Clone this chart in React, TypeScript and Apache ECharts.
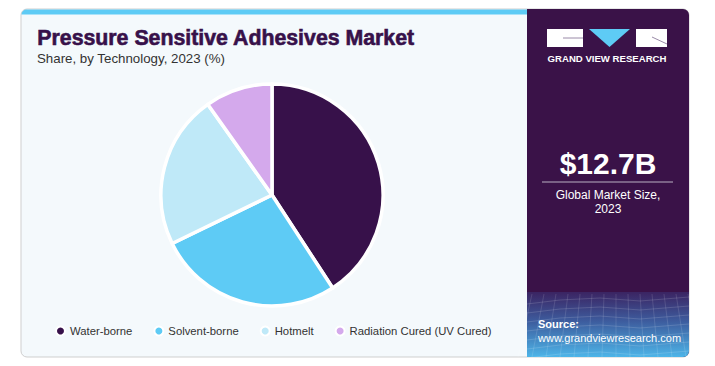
import React, { useEffect, useRef } from "react";
import * as echarts from "echarts";

const categories = ["Water-borne", "Solvent-borne", "Hotmelt", "Radiation Cured (UV Cured)"];
const shares = [40.8, 27.0, 22.4, 9.8];
const colors = ["#37114a", "#5ecbf5", "#bfe9f8", "#d4a9ec"];
const titleText = "Pressure Sensitive Adhesives Market";
const subtitleText = "Share, by Technology, 2023 (%)";
const marketSize = "$12.7B";
const marketLabel = ["Global Market Size,", "2023"];

export default function App() {
  const ref = useRef<HTMLDivElement>(null);
  useEffect(() => {
    if (!ref.current) return;
    const chart = echarts.init(ref.current, undefined, { renderer: "svg" });
    const font = "'Liberation Sans', Arial, sans-serif";
    const gridLines: any[] = [];
    for (let i = 0; i < 7; i++) {
      const y = 300 + i * 9;
      gridLines.push({
        type: "polyline",
        shape: { points: [[527, y + 4], [560, y], [600, y - 2], [640, y + 1], [689, y - 3]] },
        style: { stroke: "rgba(255,255,255,0.14)", lineWidth: 1, fill: null },
      });
    }
    for (let i = 0; i < 14; i++) {
      const x = 532 + i * 12;
      gridLines.push({
        type: "line",
        shape: { x1: x, y1: 294, x2: x + (i - 7) * 2, y2: 357 },
        style: { stroke: "rgba(255,255,255,0.12)", lineWidth: 1 },
      });
    }
    chart.setOption({
      animation: false,
      textStyle: { fontFamily: font },
      graphic: [
        {
          type: "rect",
          shape: { x: 21, y: 9, width: 668, height: 348, r: 6 },
          style: { fill: "#f4f9fc", stroke: "#cfcfcf", lineWidth: 1 },
        },
        {
          type: "rect",
          shape: { x: 21.5, y: 9.5, width: 506, height: 5, r: [5, 0, 0, 0] },
          style: { fill: "#5ecbf5" },
        },
        {
          type: "rect",
          shape: { x: 527, y: 9, width: 162, height: 348, r: [0, 6, 6, 0] },
          style: { fill: "#3a1248" },
        },
        {
          type: "rect",
          shape: { x: 527, y: 292, width: 162, height: 65, r: [0, 0, 6, 0] },
          style: {
            fill: new echarts.graphic.LinearGradient(0, 0, 0, 1, [
              { offset: 0, color: "#3b2462" },
              { offset: 0.45, color: "#3d5c9e" },
              { offset: 1, color: "#4db5e8" },
            ]),
          },
        },
        ...gridLines,
        {
          type: "text",
          left: 37,
          top: 27,
          style: {
            text: titleText,
            font: `bold 21.3px ${font}`,
            fill: "#37114a",
            stroke: "#37114a",
            lineWidth: 0.6,
          },
        },
        {
          type: "text",
          left: 37,
          top: 51.5,
          style: { text: subtitleText, font: `13.3px ${font}`, fill: "#333333" },
        },
        // logo
        {
          type: "rect",
          shape: { x: 547, y: 29, width: 36, height: 18 },
          style: { fill: "#ffffff" },
        },
        {
          type: "polyline",
          shape: { points: [[563, 38], [583, 38]] },
          style: { stroke: "#9a8aa8", lineWidth: 1, fill: null },
        },
        {
          type: "polygon",
          shape: { points: [[589, 29], [630, 29], [609.5, 47]] },
          style: { fill: "#5ecbf5" },
        },
        {
          type: "rect",
          shape: { x: 636, y: 29, width: 31, height: 18 },
          style: { fill: "#ffffff" },
        },
        {
          type: "polyline",
          shape: { points: [[652, 37], [667, 44]] },
          style: { stroke: "#9a8aa8", lineWidth: 1, fill: null },
        },
        {
          type: "text",
          x: 607,
          y: 58,
          style: {
            text: "GRAND VIEW RESEARCH",
            font: `bold 9.6px ${font}`,
            fill: "#ffffff",
            align: "center",
            verticalAlign: "middle",
          },
        },
        {
          type: "text",
          x: 608,
          y: 163,
          style: {
            text: marketSize,
            font: `bold 30px ${font}`,
            fill: "#ffffff",
            align: "center",
            verticalAlign: "middle",
          },
        },
        {
          type: "line",
          shape: { x1: 542, y1: 182, x2: 673, y2: 182 },
          style: { stroke: "#b9b0c2", lineWidth: 1 },
        },
        {
          type: "text",
          x: 608,
          y: 195,
          style: {
            text: marketLabel[0],
            font: `12px ${font}`,
            fill: "#ffffff",
            align: "center",
            verticalAlign: "middle",
          },
        },
        {
          type: "text",
          x: 608,
          y: 209,
          style: {
            text: marketLabel[1],
            font: `12px ${font}`,
            fill: "#ffffff",
            align: "center",
            verticalAlign: "middle",
          },
        },
        {
          type: "text",
          x: 538,
          y: 324,
          style: { text: "Source:", font: `bold 11px ${font}`, fill: "#ffffff", verticalAlign: "middle" },
        },
        {
          type: "text",
          x: 538,
          y: 338,
          style: {
            text: "www.grandviewresearch.com",
            font: `11px ${font}`,
            fill: "#ffffff",
            verticalAlign: "middle",
          },
        },
      ],
      legend: {
        left: 55,
        top: 325.5,
        padding: 0,
        icon: "circle",
        itemWidth: 9,
        itemHeight: 9,
        itemGap: 21,
        textStyle: { fontSize: 11.3, color: "#333333", fontFamily: font },
        data: categories,
      },
      series: [
        {
          type: "pie",
          center: [272, 195],
          radius: [0, 111],
          startAngle: 90,
          clockwise: true,
          label: { show: false },
          labelLine: { show: false },
          emphasis: { disabled: true },
          itemStyle: { borderColor: "#ffffff", borderWidth: 3.5 },
          data: categories.map((name, i) => ({
            name,
            value: shares[i],
            itemStyle: { color: colors[i] },
          })),
        },
      ],
    });
    return () => chart.dispose();
  }, []);
  return (
    <div
      ref={ref}
      style={{ position: "fixed", left: 0, top: 0, width: 715, height: 366, background: "#ffffff" }}
    />
  );
}
